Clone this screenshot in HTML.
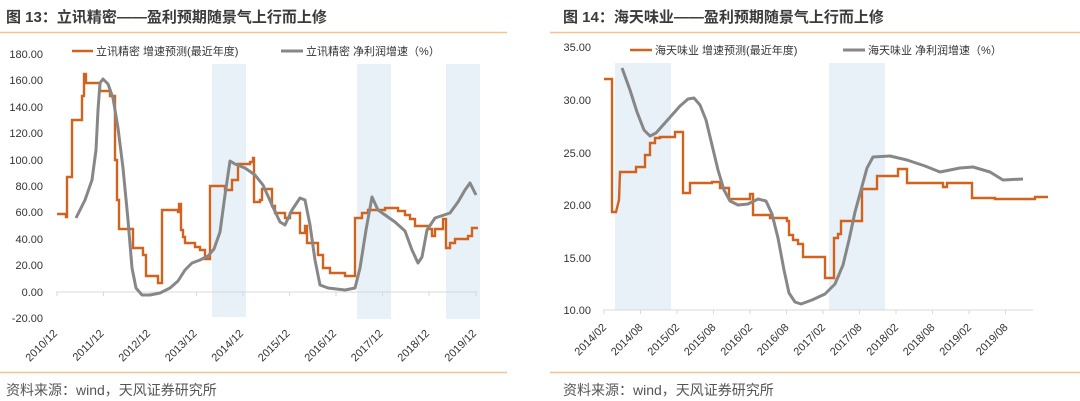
<!DOCTYPE html>
<html><head><meta charset="utf-8"><style>
body{margin:0;background:#fff;}
svg{display:block;font-family:"Liberation Sans","Noto Sans CJK SC",sans-serif;}
.t{font-size:15px;font-weight:bold;fill:#3a3a3a;}
.ax{font-size:11px;fill:#333;}
.lg{font-size:11px;fill:#333;}
.src{font-size:14px;fill:#555;}
.o{fill:none;stroke:#d2631e;stroke-width:2.4;stroke-linejoin:miter;}
.g{fill:none;stroke:#878787;stroke-width:3;stroke-linejoin:round;}
</style></head><body>
<svg width="1080" height="401" viewBox="0 0 1080 401">
<!-- LEFT -->
<text x="6" y="22" class="t">图 13：立讯精密——盈利预期随景气上行而上修</text>
<line x1="0" y1="32.5" x2="507" y2="32.5" stroke="#f5c28e" stroke-width="1.5"/>
<rect x="212" y="64" width="34" height="253" fill="#e8f0f8"/>
<rect x="357" y="64" width="34" height="255" fill="#e8f0f8"/>
<rect x="446" y="64" width="34" height="255" fill="#e8f0f8"/>
<line x1="72" y1="51" x2="93" y2="51" stroke="#d2631e" stroke-width="2.5"/>
<text x="96" y="55" class="lg">立讯精密 增速预测(最近年度)</text>
<line x1="281" y1="51" x2="303" y2="51" stroke="#878787" stroke-width="3"/>
<text x="306" y="55" class="lg">立讯精密 净利润增速（%）</text>
<g class="ax" text-anchor="end">
<text x="43" y="58">180.00</text><text x="43" y="84">160.00</text><text x="43" y="111">140.00</text>
<text x="43" y="137">120.00</text><text x="43" y="164">100.00</text><text x="43" y="190">80.00</text>
<text x="43" y="216">60.00</text><text x="43" y="243">40.00</text><text x="43" y="269">20.00</text>
<text x="43" y="296">0.00</text><text x="43" y="322">-20.00</text>
</g>
<line x1="56" y1="292" x2="478" y2="292" stroke="#d9d9d9"/>
<g stroke="#d9d9d9">
<line x1="57" y1="292" x2="57" y2="296"/><line x1="103.5" y1="292" x2="103.5" y2="296"/><line x1="150" y1="292" x2="150" y2="296"/><line x1="196.5" y1="292" x2="196.5" y2="296"/><line x1="243" y1="292" x2="243" y2="296"/><line x1="289.5" y1="292" x2="289.5" y2="296"/><line x1="336" y1="292" x2="336" y2="296"/><line x1="382.5" y1="292" x2="382.5" y2="296"/><line x1="429" y1="292" x2="429" y2="296"/><line x1="476" y1="292" x2="476" y2="296"/>
</g>
<g class="ax" text-anchor="end">
<text transform="translate(58,334) rotate(-45)">2010/12</text>
<text transform="translate(104.5,334) rotate(-45)">2011/12</text>
<text transform="translate(151,334) rotate(-45)">2012/12</text>
<text transform="translate(197.5,334) rotate(-45)">2013/12</text>
<text transform="translate(244,334) rotate(-45)">2014/12</text>
<text transform="translate(290.5,334) rotate(-45)">2015/12</text>
<text transform="translate(337,334) rotate(-45)">2016/12</text>
<text transform="translate(383.5,334) rotate(-45)">2017/12</text>
<text transform="translate(430,334) rotate(-45)">2018/12</text>
<text transform="translate(477,334) rotate(-45)">2019/12</text>
</g>
<polyline class="o" points="57,214 66,214 66,217 67,217 67,177 72,177 72,120 82,120 82,96 84,96 84,74 86,74 86,83 100,83 100,91 110,91 110,96 115,96 115,160 117,160 117,200 119,200 119,229 133,229 133,248 143,248 143,255 146,255 146,276 158,276 158,283 162,283 162,210 178,210 178,212 179,212 179,204 181,204 181,230 183,230 183,237 185,237 185,243 195,243 195,247 200,247 200,250 205,250 205,259 210,259 210,186 225,186 225,190 232,190 232,180 238,180 238,164 250,164 250,162 253,162 253,158 254,158 254,202 260,202 260,200 262,200 262,189 272,189 272,206 275,206 275,213 285,213 285,218 290,218 290,213 300,213 300,233 305,233 305,226 307,226 307,243 318,243 318,255 323,255 323,268 330,268 330,273 345,273 345,276 355,276 355,218 362,218 362,213 368,213 368,210 385,210 385,208 398,208 398,211 405,211 405,215 410,215 410,219 415,219 415,226 428,226 428,229 432,229 432,236 435,236 435,229 443,229 443,219 446,219 446,248 450,248 450,243 455,243 455,239 468,239 468,236 472,236 472,228 478,228"/>
<polyline class="g" points="76,218 85,200 92,180 96,150 98,110 100,83 103,79 108,84 113,98 118,128 123,168 128,220 132,268 136,288 142,295 150,295 160,293 170,288 178,281 185,270 192,263 200,260 208,256 214,249 220,232 225,195 230,161 235,164 245,168 255,175 263,185 272,205 280,222 285,225 292,210 300,198 305,200 310,225 315,260 320,285 328,288 345,290 355,288 360,268 366,230 372,197 378,210 395,222 405,231 412,250 418,263 422,257 427,230 435,218 450,213 458,202 465,190 470,183 476,195"/>
<line x1="0" y1="372.5" x2="507" y2="372.5" stroke="#f5c28e" stroke-width="1.5"/>
<text x="6" y="395" class="src">资料来源：wind，天风证券研究所</text>

<!-- RIGHT -->
<text x="563" y="22" class="t">图 14：海天味业——盈利预期随景气上行而上修</text>
<line x1="550" y1="32.5" x2="1080" y2="32.5" stroke="#f5c28e" stroke-width="1.5"/>
<rect x="615" y="63" width="56" height="247" fill="#e8f0f8"/>
<rect x="829" y="63" width="56" height="247" fill="#e8f0f8"/>
<line x1="630" y1="50" x2="652" y2="50" stroke="#d2631e" stroke-width="2.5"/>
<text x="655" y="54" class="lg">海天味业 增速预测(最近年度)</text>
<line x1="843" y1="50" x2="865" y2="50" stroke="#878787" stroke-width="3"/>
<text x="868" y="54" class="lg">海天味业 净利润增速（%）</text>
<g class="ax" text-anchor="end">
<text x="591" y="51">35.00</text><text x="591" y="104">30.00</text><text x="591" y="157">25.00</text>
<text x="591" y="209">20.00</text><text x="591" y="262">15.00</text><text x="591" y="314">10.00</text>
</g>
<line x1="603" y1="310" x2="1033" y2="310" stroke="#d9d9d9"/>
<g stroke="#d9d9d9">
<line x1="604" y1="310" x2="604" y2="314"/><line x1="640.5" y1="310" x2="640.5" y2="314"/><line x1="677" y1="310" x2="677" y2="314"/><line x1="713.5" y1="310" x2="713.5" y2="314"/><line x1="750" y1="310" x2="750" y2="314"/><line x1="786.5" y1="310" x2="786.5" y2="314"/><line x1="823" y1="310" x2="823" y2="314"/><line x1="859.5" y1="310" x2="859.5" y2="314"/><line x1="896" y1="310" x2="896" y2="314"/><line x1="932.5" y1="310" x2="932.5" y2="314"/><line x1="969" y1="310" x2="969" y2="314"/><line x1="1005.5" y1="310" x2="1005.5" y2="314"/>
</g>
<g class="ax" text-anchor="end">
<text transform="translate(607,328) rotate(-45)">2014/02</text>
<text transform="translate(643.5,328) rotate(-45)">2014/08</text>
<text transform="translate(680,328) rotate(-45)">2015/02</text>
<text transform="translate(716.5,328) rotate(-45)">2015/08</text>
<text transform="translate(753,328) rotate(-45)">2016/02</text>
<text transform="translate(789.5,328) rotate(-45)">2016/08</text>
<text transform="translate(826,328) rotate(-45)">2017/02</text>
<text transform="translate(862.5,328) rotate(-45)">2017/08</text>
<text transform="translate(899,328) rotate(-45)">2018/02</text>
<text transform="translate(935.5,328) rotate(-45)">2018/08</text>
<text transform="translate(972,328) rotate(-45)">2019/02</text>
<text transform="translate(1008.5,328) rotate(-45)">2019/08</text>
</g>
<polyline class="o" points="604,79 612,79 612,212 616,212 619,200 620,172 636,172 636,167 645,167 645,155 650,155 650,143 655,143 655,138 660,138 660,137 675,137 675,132 683,132 683,193 690,193 690,183 712,183 712,182 720,182 720,188 729,188 729,199 750,199 750,194 753,194 753,215 770,215 770,218 787,218 787,221 789,221 789,235 793,235 793,240 798,240 798,244 803,244 803,257 825,257 825,278 834,278 834,238 838,238 838,234 841,234 841,221 862,221 862,189 877,189 877,176 898,176 898,169 907,169 907,183 943,183 943,187 947,187 947,183 972,183 972,198 995,198 995,199 1035,199 1035,197 1048,197"/>
<polyline class="g" points="622,68 630,90 637,112 644,130 650,136 656,133 664,124 672,115 680,106 688,99 694,98 700,105 706,120 712,145 718,170 724,190 730,201 738,205 748,204 758,199 766,201 772,214 778,238 784,270 789,293 795,302 801,304 812,300 825,294 835,284 843,265 849,240 855,212 861,190 867,168 873,157 890,156 907,160 925,166 940,172 960,168 973,167 990,172 1003,180 1023,179"/>
<line x1="550" y1="372.5" x2="1080" y2="372.5" stroke="#f5c28e" stroke-width="1.5"/>
<text x="563" y="395" class="src">资料来源：wind，天风证券研究所</text>
</svg>
</body></html>
